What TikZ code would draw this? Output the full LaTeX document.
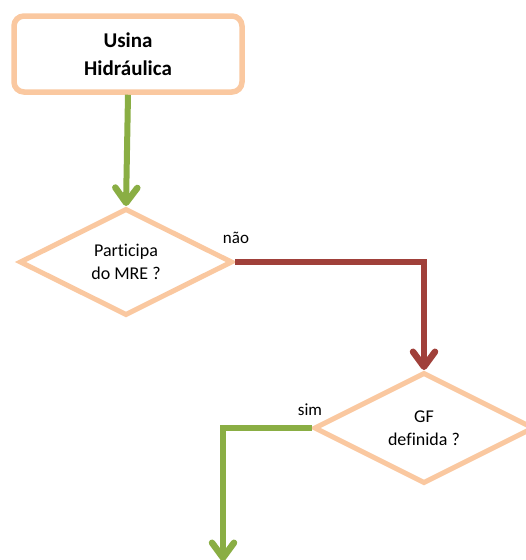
\documentclass[tikz,border=0pt]{standalone}
\usepackage{fontspec}
\setmainfont{Carlito}[Ligatures=NoCommon]
\usetikzlibrary{
  arrows.meta,
  shapes.geometric
}
\definecolor{peach}{RGB}{250,200,160}
\definecolor{leaf}{RGB}{138,174,68}
\definecolor{brick}{RGB}{160,64,58}

\tikzset{
  startbox/.style={draw=peach, line width=5.5pt, rounded corners=10pt,
    fill=white, minimum width=228pt, minimum height=76pt,
    align=center, font=\fontsize{21}{28}\selectfont\bfseries},
  question/.style={diamond, draw=peach, line width=5pt, fill=white,
    inner sep=0pt, align=center, font=\fontsize{18}{23}\selectfont},
  barb/.style={-{Straight Barb[length=15pt,width=22pt,line width=6.5pt,
    line cap=round,line join=round]}},
  yesline/.style={draw=leaf, line width=6pt, barb},
  noline/.style={draw=brick, line width=6pt, barb},
  answer/.style={anchor=base, font=\fontsize{17}{20}\selectfont}
}

\begin{document}
\begin{tikzpicture}[x=1pt,y=-1pt]
  \useasboundingbox (0,0) rectangle (526,560);

  % boxes
  \node[startbox] (plant) at (128,54) {Usina\\Hidráulica};
  \node[question, minimum width=213pt, minimum height=107pt]
    (mre) at (126,262) {Participa\\do MRE ?};
  \node[question, minimum width=220pt, minimum height=111pt]
    (gf) at (424,428) {GF\\definida ?};
  \coordinate (out) at (223,561);

  % connectors
  \draw[yesline] (plant.south) -- (mre.north);
  \draw[noline] (mre.east) -| (gf.north);
  \draw[yesline] (gf.west) -| (out);

  % answers
  \node[answer] at (236,243) {não};
  \node[answer] at (310,415) {sim};
\end{tikzpicture}
\end{document}
